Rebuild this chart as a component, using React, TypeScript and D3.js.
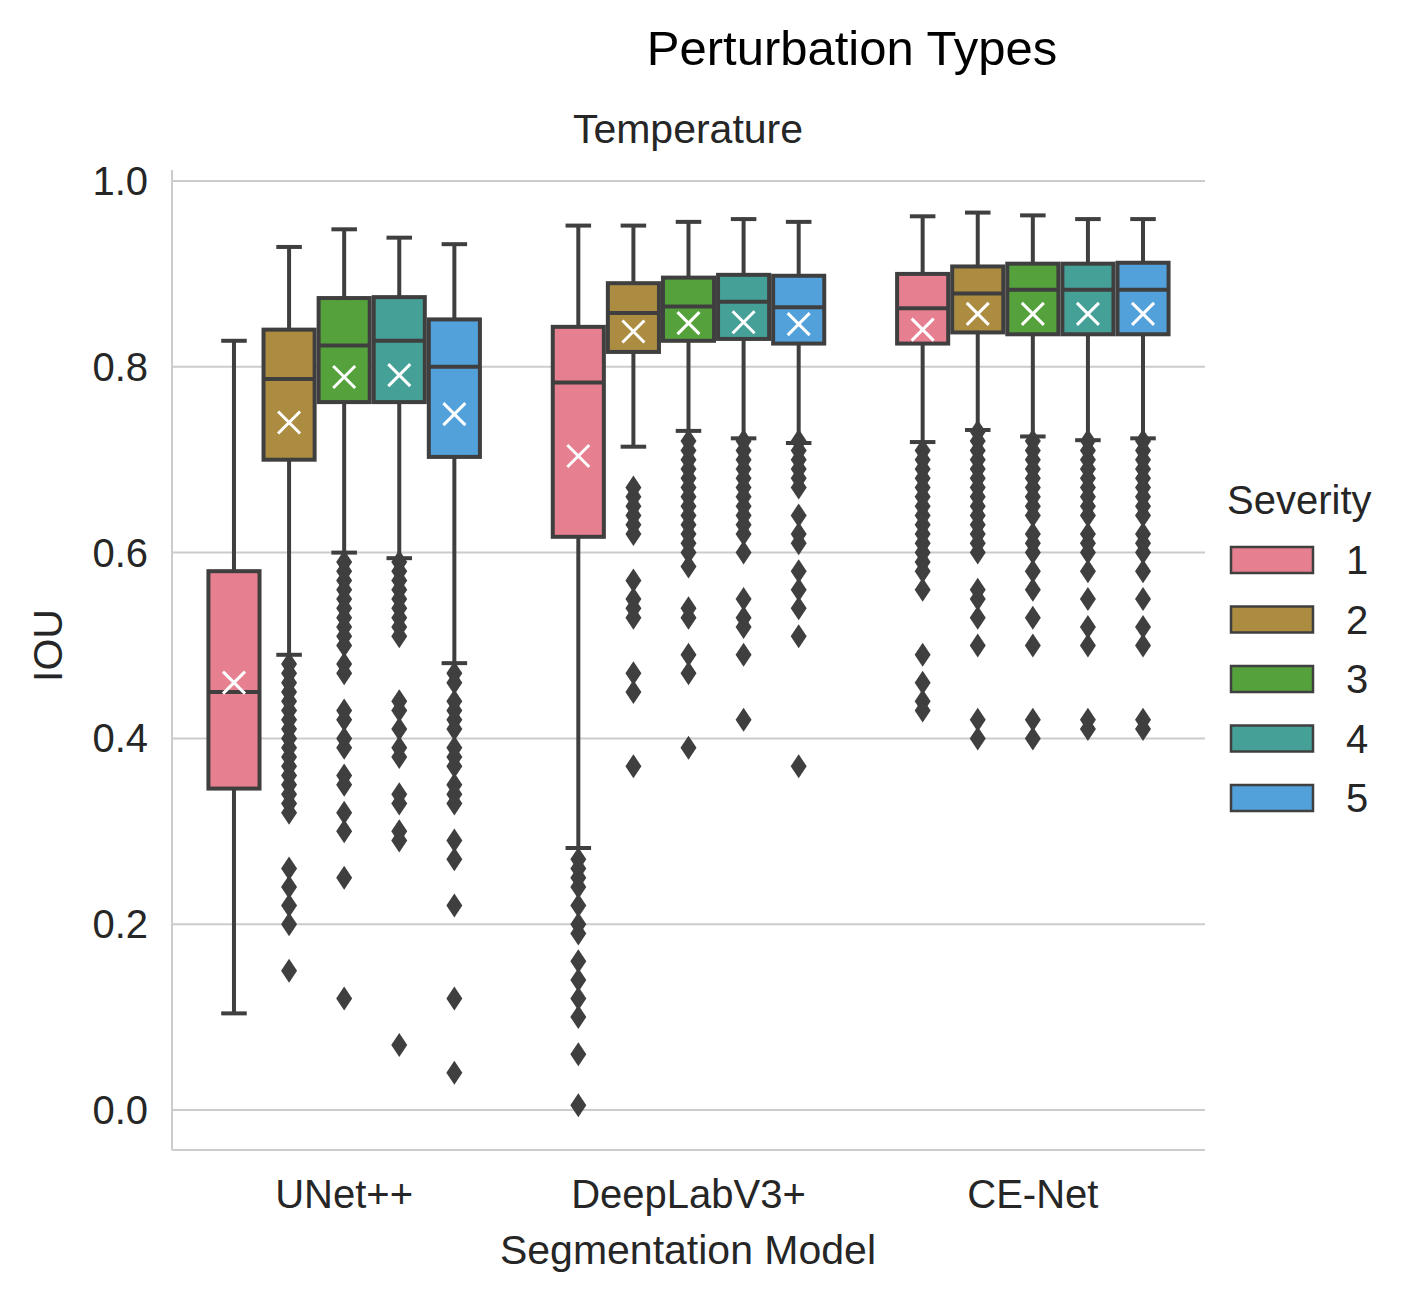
import * as d3 from "d3"

const models = ["UNet++", "DeepLabV3+", "CE-Net"]
const severities = ["1", "2", "3", "4", "5"]
const colors = ["#e67f8f", "#ab8c41", "#55a23c", "#45a098", "#52a1db"]
const yTicks = [0, 0.2, 0.4, 0.6, 0.8, 1.0]

// [lowWhisker, q1, median, q3, highWhisker, mean] per model, per severity
const stats: number[][][] = [
  [
    [0.104, 0.346, 0.45, 0.58, 0.828, 0.46],
    [0.49, 0.70, 0.787, 0.84, 0.929, 0.74],
    [0.60, 0.762, 0.823, 0.874, 0.948, 0.789],
    [0.594, 0.762, 0.828, 0.875, 0.939, 0.791],
    [0.481, 0.703, 0.80, 0.851, 0.932, 0.749],
  ],
  [
    [0.282, 0.617, 0.783, 0.843, 0.952, 0.704],
    [0.714, 0.816, 0.858, 0.89, 0.952, 0.838],
    [0.731, 0.828, 0.865, 0.896, 0.956, 0.847],
    [0.723, 0.83, 0.87, 0.899, 0.959, 0.848],
    [0.718, 0.825, 0.864, 0.898, 0.956, 0.846],
  ],
  [
    [0.719, 0.825, 0.863, 0.90, 0.962, 0.84],
    [0.732, 0.837, 0.879, 0.908, 0.966, 0.857],
    [0.725, 0.835, 0.883, 0.911, 0.963, 0.857],
    [0.721, 0.835, 0.883, 0.911, 0.959, 0.857],
    [0.723, 0.835, 0.883, 0.912, 0.959, 0.857],
  ],
]

const outliers: number[][][] = [
  [
    [],
    [0.48, 0.47, 0.46, 0.45, 0.44, 0.43, 0.42, 0.41, 0.40, 0.39, 0.38, 0.37, 0.36, 0.35, 0.34, 0.33, 0.32, 0.26, 0.24, 0.22, 0.20, 0.15],
    [0.59, 0.58, 0.57, 0.56, 0.55, 0.54, 0.53, 0.52, 0.51, 0.50, 0.48, 0.47, 0.43, 0.42, 0.40, 0.39, 0.36, 0.35, 0.32, 0.30, 0.25, 0.12],
    [0.59, 0.58, 0.57, 0.56, 0.55, 0.54, 0.53, 0.52, 0.51, 0.44, 0.43, 0.41, 0.39, 0.38, 0.34, 0.33, 0.30, 0.29, 0.07],
    [0.47, 0.46, 0.44, 0.43, 0.42, 0.41, 0.39, 0.38, 0.37, 0.35, 0.34, 0.33, 0.29, 0.27, 0.22, 0.12, 0.04],
  ],
  [
    [0.27, 0.26, 0.25, 0.24, 0.22, 0.20, 0.19, 0.16, 0.14, 0.12, 0.10, 0.06, 0.005],
    [0.67, 0.66, 0.65, 0.64, 0.63, 0.62, 0.57, 0.55, 0.54, 0.53, 0.47, 0.45, 0.37],
    [0.72, 0.71, 0.70, 0.69, 0.68, 0.67, 0.66, 0.65, 0.64, 0.63, 0.62, 0.61, 0.60, 0.585, 0.54, 0.53, 0.49, 0.47, 0.39],
    [0.72, 0.71, 0.70, 0.69, 0.68, 0.67, 0.66, 0.65, 0.64, 0.63, 0.62, 0.60, 0.55, 0.53, 0.52, 0.49, 0.42],
    [0.72, 0.71, 0.70, 0.69, 0.68, 0.67, 0.64, 0.62, 0.61, 0.58, 0.56, 0.54, 0.51, 0.37],
  ],
  [
    [0.71, 0.70, 0.69, 0.68, 0.67, 0.66, 0.65, 0.64, 0.63, 0.62, 0.61, 0.60, 0.59, 0.58, 0.56, 0.49, 0.46, 0.44, 0.43],
    [0.73, 0.72, 0.71, 0.70, 0.69, 0.68, 0.67, 0.66, 0.65, 0.64, 0.63, 0.62, 0.61, 0.60, 0.56, 0.55, 0.53, 0.50, 0.42, 0.40],
    [0.72, 0.71, 0.70, 0.69, 0.68, 0.67, 0.66, 0.65, 0.64, 0.62, 0.61, 0.60, 0.58, 0.56, 0.53, 0.50, 0.42, 0.40],
    [0.72, 0.71, 0.70, 0.69, 0.68, 0.67, 0.66, 0.65, 0.64, 0.62, 0.61, 0.60, 0.58, 0.55, 0.52, 0.50, 0.42, 0.41],
    [0.72, 0.71, 0.70, 0.69, 0.68, 0.67, 0.66, 0.65, 0.64, 0.62, 0.61, 0.60, 0.58, 0.55, 0.52, 0.50, 0.42, 0.41],
  ],
]

const W = 1412
const H = 1302
const left = 172
const right = 1205
const top = 170
const bottom = 1150
const edge = "#3f3f3f"
const font = "Arial, 'Liberation Sans', sans-serif"

export default function App() {
  const y = d3.scaleLinear().domain([0, 1]).range([1110, 181])
  const x = d3.scaleBand().domain(models).range([left, right]).paddingInner(0).paddingOuter(0)
  const inner = d3.scaleBand().domain(severities).range([0, x.bandwidth() * 0.8])
  const off = x.bandwidth() * 0.1
  const bw = inner.bandwidth()

  return (
    <svg width={W} height={H} style={{ display: "block", margin: -8 }} fontFamily={font}>
      <rect width={W} height={H} fill="white" />
      {yTicks.map((t) => (
        <line key={t} x1={left} x2={right} y1={y(t)} y2={y(t)} stroke="#cccccc" strokeWidth={2} />
      ))}
      <line x1={left} x2={left} y1={top} y2={bottom} stroke="#cccccc" strokeWidth={2} />
      <line x1={left} x2={right} y1={bottom} y2={bottom} stroke="#cccccc" strokeWidth={2} />
      {yTicks.map((t) => (
        <text key={t} x={148} y={y(t)} dy="0.35em" textAnchor="end" fontSize={40} fill="#262626">
          {t.toFixed(1)}
        </text>
      ))}
      {models.map((m) => (
        <text key={m} x={x(m)! + x.bandwidth() / 2} y={1208} textAnchor="middle" fontSize={40} fill="#262626">
          {m}
        </text>
      ))}
      <text x={688} y={1264} textAnchor="middle" fontSize={41} fill="#262626">Segmentation Model</text>
      <text x={0} y={0} transform={`translate(62,${y(0.5)}) rotate(-90)`} textAnchor="middle" fontSize={41} fill="#262626">IOU</text>
      <text x={688} y={143} textAnchor="middle" fontSize={41} fill="#262626">Temperature</text>
      <text x={852} y={65} textAnchor="middle" fontSize={49} fill="#000">Perturbation Types</text>

      {models.map((m, mi) =>
        severities.map((s, si) => {
          const [lo, q1, med, q3, hi, mean] = stats[mi][si]
          const x0 = x(m)! + off + inner(s)!
          const cx = x0 + bw / 2
          const bx = x0 + 2
          const w = bw - 4
          return (
            <g key={m + s}>
              <line x1={cx} x2={cx} y1={y(lo)} y2={y(q1)} stroke={edge} strokeWidth={4} />
              <line x1={cx} x2={cx} y1={y(q3)} y2={y(hi)} stroke={edge} strokeWidth={4} />
              <line x1={cx - w / 4} x2={cx + w / 4} y1={y(lo)} y2={y(lo)} stroke={edge} strokeWidth={4} />
              <line x1={cx - w / 4} x2={cx + w / 4} y1={y(hi)} y2={y(hi)} stroke={edge} strokeWidth={4} />
              <rect x={bx} y={y(q3)} width={w} height={y(q1) - y(q3)} fill={colors[si]} stroke={edge} strokeWidth={4} />
              <line x1={bx} x2={bx + w} y1={y(med)} y2={y(med)} stroke={edge} strokeWidth={4} />
              {outliers[mi][si].map((o, k) => (
                <path key={k} d={`M${cx},${y(o) - 12}L${cx + 8},${y(o)}L${cx},${y(o) + 12}L${cx - 8},${y(o)}Z`} fill={edge} />
              ))}
              <path d={`M${cx - 11},${y(mean) - 11}L${cx + 11},${y(mean) + 11}M${cx - 11},${y(mean) + 11}L${cx + 11},${y(mean) - 11}`} stroke="white" strokeWidth={3} />
            </g>
          )
        })
      )}

      <text x={1227} y={514} fontSize={40} fill="#262626">Severity</text>
      {severities.map((s, i) => (
        <g key={s}>
          <rect x={1231} y={547 + i * 59.5} width={82} height={26} fill={colors[i]} stroke={edge} strokeWidth={2.5} />
          <text x={1346} y={560 + i * 59.5} dy="0.35em" fontSize={40} fill="#262626">{s}</text>
        </g>
      ))}
    </svg>
  )
}
